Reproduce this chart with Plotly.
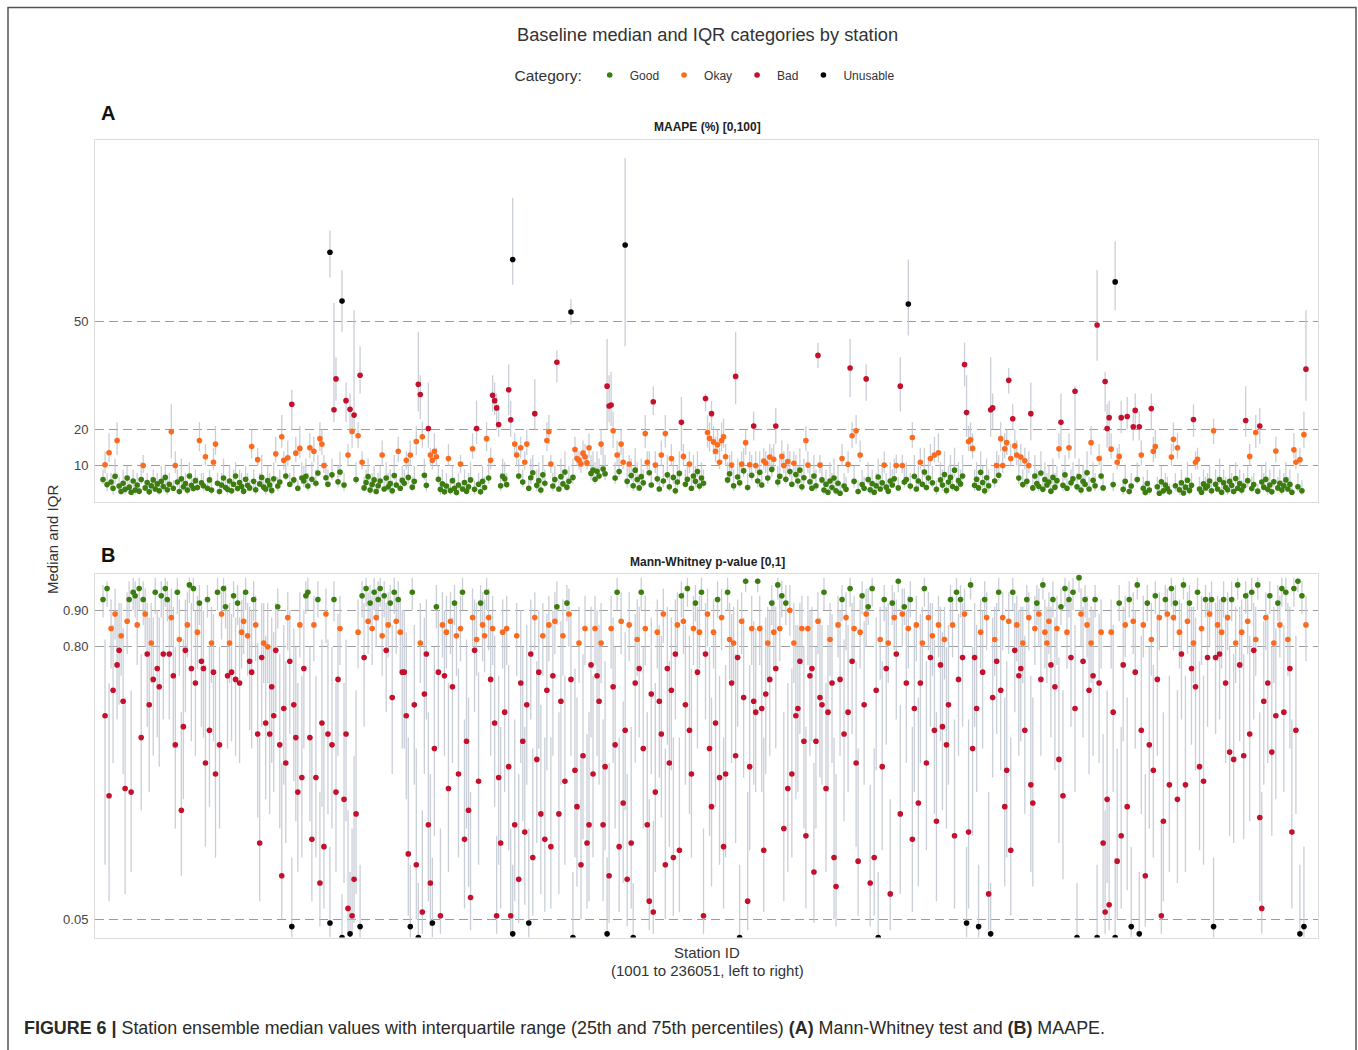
import numpy as np
import plotly.graph_objects as go

# ---------------- data (station order left to right) ----------------
# Panel A: MAAPE median in tenths of a percent, quartiles in percent
A_MED = [
    62,103,48,136,55,38,71,170,44,29, 52,35,66,41,27,58,33,47,30,62, 101,39,54,28,45,61,36,50,31,57, 43,68,34,49,194,38,101,55,29,64, 42,51,33,72,46,37,59,40,170,53,
    45,125,38,61,33,110,160,52,29,47, 66,40,35,58,31,49,72,37,54,43, 30,63,46,39,153,57,34,117,50,68, 41,36,59,47,32,64,133,44,55,180, 115,72,122,49,270,61,135,38,148,66,
    58,71,44,150,63,140,52,80,175,160, 101,67,49,690,75,255,340,56,83,555, 47,280,130,256,195,240,62,183,350,110, 39,54,70,33,48,61,29,45,58,130, 36,66,42,51,31,73,47,140,38,60,
    52,115,68,130,41,57,167,325,297,180, 74,46,203,130,115,140,125,63,35,50, 28,44,120,32,59,38,26,47,105,36, 54,30,42,61,147,35,203,49,28,57, 40,175,66,115,295,280,260,214,45,71,
    64,48,310,227,670,160,130,72,150,55, 110,160,38,67,81,244,46,59,33,75, 52,170,194,105,44,62,386,36,70,50, 83,41,57,525,68,145,120,115,105,135, 125,108,150,79,88,63,85,72,160,91,
    78,320,265,268,197,66,130,84,160,110, 710,57,105,73,45,88,62,39,70,53, 189,110,81,47,277,102,64,36,130,58, 189,75,42,120,68,31,55,79,220,126, 49,63,105,38,72,57,84,44,66,52,
    286,192,176,244,166,140,158,110,170,180, 125,61,78,102,45,347,69,53,105,86, 164,40,103,74,210,101,58,82,47,113, 107,66,124,90,118,210,55,71,126,101, 63,112,84,49,107,76,58,88,42,67,
    170,102,56,38,72,45,405,102,61,33, 49,27,58,40,66,31,52,24,120,44, 35,104,370,183,57,197,29,130,48,38, 340,62,34,51,27,45,69,36,53,102, 41,30,58,47,64,101,39,320,101,55,
    62,547,44,178,71,36,58,110,49,83, 40,66,120,53,130,35,136,61,47,76, 32,55,68,43,88,37,59,50,72,380, 247,167,172,148,46,63,39,82,54,31, 67,45,255,260,58,101,74,175,101,147,
    164,336,120,230,155,130,66,124,48,114, 57,101,244,39,72,51,43,80,35,62, 47,55,30,68,41,59,147,220,46,75, 38,150,53,64,306,42,70,33,57,49, 81,36,164,60,45,489,120,72,39,333,
    203,233,146,48,608,110,126,233,35,57, 236,29,44,208,253,62,208,130,38,26, 51,33,258,140,153,42,24,56,31,47, 37,28,124,173,45,150,34,53,25,41, 60,32,46,228,110,118,36,27,50,39,
    44,58,31,197,49,36,62,27,53,40, 34,57,46,29,65,38,51,33,44,225, 59,126,37,48,192,30,210,55,41,63, 35,47,28,56,141,39,52,33,45,61, 36,49,27,144,110,42,117,31,186,367,
]
A_Q1 = [
    5,8,3,11,4,2,5,13,3,2, 4,2,5,3,2,4,2,3,2,5, 8,3,4,2,3,5,3,4,2,4, 3,5,2,4,12,3,8,4,2,5, 3,4,2,6,3,3,5,3,14,4,
    3,10,3,5,2,9,13,4,2,3, 5,3,2,4,2,4,6,3,4,3, 2,5,3,3,12,4,2,10,4,5, 3,2,5,3,2,5,11,3,4,15, 9,6,10,4,20,5,11,3,12,5,
    4,6,3,12,5,11,4,7,14,13, 8,5,4,62,6,22,28,4,7,47, 3,22,10,20,15,19,5,15,30,9, 3,4,6,2,4,5,2,3,4,10, 3,5,3,4,2,6,4,11,3,5,
    4,9,5,10,3,4,13,25,23,15, 6,3,15,10,9,12,10,5,2,4, 2,3,10,2,5,3,2,3,8,3, 4,2,3,5,12,2,16,4,2,4, 3,14,5,9,25,24,20,18,3,6,
    5,4,24,18,60,13,10,6,12,4, 9,13,3,5,7,20,3,5,2,6, 4,14,16,8,3,5,33,3,6,4, 7,3,5,49,5,12,10,9,8,11, 10,9,12,6,7,5,7,6,13,7,
    6,20,22,21,15,5,10,7,13,9, 43,4,8,6,3,7,5,3,6,4, 15,9,7,4,24,8,5,3,10,4, 15,6,3,10,5,2,4,6,14,10, 4,5,8,3,6,4,7,3,5,4,
    25,15,14,20,13,11,13,9,14,15, 10,5,6,8,3,27,5,4,8,7, 13,3,8,6,17,8,4,7,4,9, 8,5,10,7,9,16,4,6,10,8, 5,9,7,4,8,6,4,7,3,5,
    14,8,4,3,6,3,37,8,5,2, 4,2,4,3,5,2,4,2,10,3, 3,8,29,15,4,16,2,11,4,3, 28,5,2,4,2,3,5,3,4,8, 3,2,4,4,5,8,3,25,8,4,
    5,46,3,15,6,3,4,9,4,7, 3,5,10,4,11,2,11,5,3,6, 2,4,5,3,7,3,4,4,6,32, 18,14,14,12,3,5,3,7,4,2, 5,3,18,20,4,8,6,14,8,12,
    13,30,10,20,12,10,5,10,4,9, 4,8,17,3,6,4,3,7,3,5, 4,4,2,5,3,4,12,14,3,6, 3,12,4,5,12,3,6,2,4,4, 7,3,13,5,3,39,10,6,3,25,
    15,15,12,3,53,9,10,19,2,4, 20,2,3,17,20,5,17,10,3,2, 4,2,20,11,12,3,2,4,2,3, 3,2,10,14,3,12,2,4,2,3, 5,2,3,18,9,9,3,2,4,3,
    3,4,2,16,4,3,5,2,4,3, 2,4,3,2,5,3,4,2,3,18, 4,10,3,4,15,2,16,4,3,5, 2,4,2,4,11,3,4,2,3,5, 3,4,2,12,9,3,10,2,15,28,
]
A_Q3 = [
    9,14,8,19,8,7,12,22,7,5, 9,6,10,7,5,9,6,8,5,11, 13,6,8,5,7,9,6,8,5,10, 7,10,6,8,27,6,14,9,5,12, 7,8,6,11,8,6,9,7,22,8,
    8,16,6,9,6,15,21,8,5,8, 12,7,6,10,6,9,11,6,9,8, 5,10,8,6,20,9,6,15,8,13, 7,6,10,8,6,11,18,7,9,24, 14,12,17,8,31,10,18,6,21,11,
    10,12,8,19,11,18,9,13,22,20, 13,11,9,75,12,55,40,10,14,64, 8,33,16,30,24,53,11,22,43,14, 7,9,12,6,8,10,5,8,10,17, 7,11,8,9,6,13,8,18,7,10,
    9,14,11,17,7,10,21,47,35,22, 12,8,33,15,14,19,15,10,6,9, 5,8,16,6,10,7,5,8,13,6, 9,6,8,11,19,6,28,8,5,10, 7,22,11,15,35,33,30,27,8,12,
    11,8,38,28,84,19,16,12,18,9, 14,20,7,12,13,34,9,11,6,13, 9,22,24,13,8,10,42,6,12,9, 14,7,10,56,12,18,15,14,13,17, 16,13,19,13,14,11,14,12,20,15,
    13,45,35,36,25,11,17,14,20,15, 95,10,13,12,9,15,11,7,12,9, 24,14,14,8,32,14,11,6,17,10, 24,13,8,16,12,6,10,14,29,16, 9,11,14,7,13,10,14,8,11,9,
    30,24,22,28,21,18,20,15,22,23, 16,11,13,14,9,47,12,10,14,15, 20,8,14,13,25,14,10,14,9,15, 14,12,16,15,16,26,10,12,17,14, 11,16,14,9,14,13,10,15,8,12,
    21,14,10,7,13,9,44,13,11,6, 9,5,11,8,12,6,10,5,16,8, 7,14,45,22,10,24,6,17,9,7, 38,11,7,9,5,8,12,7,10,14, 8,6,11,9,12,13,7,40,13,10,
    11,67,8,22,13,7,11,15,9,15, 8,12,16,10,18,6,19,11,9,14, 6,10,13,8,15,7,11,9,13,44, 35,21,22,19,9,11,7,14,10,6, 12,9,40,30,11,14,13,22,14,19,
    20,37,16,27,20,17,12,16,9,15, 10,14,33,7,13,9,8,14,6,11, 8,10,5,12,8,10,19,30,9,13, 7,19,9,11,32,8,12,6,10,9, 14,7,21,11,8,64,16,13,7,36,
    27,28,19,8,72,15,16,28,6,10, 29,5,8,26,30,11,25,17,7,5, 9,6,30,18,20,7,5,10,6,8, 7,5,16,22,8,19,6,9,5,7, 11,6,8,27,14,15,7,5,9,7,
    8,10,6,23,9,7,12,5,9,7, 6,10,8,5,11,7,9,6,8,32, 10,16,7,8,24,5,26,10,8,11, 6,9,5,10,18,7,9,6,8,11, 7,9,5,19,14,8,15,6,25,53,
]
# Panel B: Mann-Whitney p-value median and quartiles, in hundredths
B_MED = [
    93,61,96,39,85,68,89,75,79,83, 65,41,87,93,40,95,94,86,96,55, 93,89,78,64,81,71,95,74,69,94, 78,96,93,78,88,72,53,95,82,35, 58,79,86,97,74,96,70,84,92,76,
    74,48,93,57,81,73,45,95,53,89, 96,91,72,81,73,94,71,92,70,84, 87,95,83,76,73,93,86,56,26,77, 81,59,80,56,69,61,79,91,53,17, 63,48,88,76,3,64,55,40,86,44,
    74,94,95,55,27,86,44,93,15,59, 25,89,56,4,53,93,40,71,85,0, 38,56,8,1,6,16,34,84,3,94, 77,96,87,92,85,95,88,93,96,83, 94,79,86,92,66,95,87,93,84,73,
    73,61,23,3,95,64,20,0,81,7, 67,78,31,15,4,52,91,73,6,86, 72,84,41,87,69,92,83,45,85,95, 27,54,35,11,88,79,82,43,92,86, 83,95,88,71,85,59,6,44,26,84,
    62,85,47,6,1,31,83,16,70,54, 29,64,4,78,22,88,49,73,34,83, 27,68,86,25,72,87,91,34,65,83, 43,92,89,71,0,46,36,81,20,50, 85,26,31,75,45,85,72,65,81,31,
    47,1,17,85,69,53,95,25,87,37, 57,16,86,26,0,70,82,74,95,52, 85,31,10,67,7,40,84,65,56,89, 20,74,48,68,22,78,86,24,94,87, 64,96,57,45,85,92,73,84,95,6,
    78,89,52,36,84,59,93,44,88,25, 45,95,82,70,81,50,77,0,87,66, 98,10,47,85,65,62,98,85,63,24, 67,81,71,92,84,74,97,85,94,30, 92,41,90,45,81,61,63,76,85,54,
    28,85,72,74,18,54,87,66,64,95, 41,62,82,70,22,14,86,71,93,56, 88,62,96,76,85,48,21,84,94,64, 89,91,15,96,22,68,0,82,47,93, 74,81,12,92,88,78,98,34,89,91,
    70,85,93,27,63,86,37,70,81,96, 48,88,77,83,57,32,86,75,58,82, 53,64,93,86,28,95,71,93,77,89, 4,29,97,52,77,63,3,84,73,93, 88,12,1,66,82,76,95,68,88,36,
    46,87,24,95,79,86,72,74,81,57, 93,88,42,37,85,92,89,71,97,84, 81,87,75,93,69,85,49,91,39,96, 84,93,77,95,63,0,99,89,76,93, 86,68,81,72,93,0,70,84,26,7,
    38,9,84,62,0,21,92,28,75,86, 36,93,3,87,73,97,1,57,86,17, 92,53,82,46,94,71,88,6,32,93, 89,42,96,88,92,38,84,78,97,42, 87,92,74,81,69,95,47,85,43,93,
    77,89,93,3,77,86,78,84,93,70, 88,51,93,49,81,97,75,84,50,94, 87,56,95,79,82,97,33,8,65,88, 70,94,51,81,61,92,86,96,62,95, 82,74,29,96,57,98,1,94,3,86,
]
B_Q1 = [
    88,20,91,10,74,48,82,60,64,72, 45,12,78,87,18,90,88,75,90,35, 86,80,58,40,70,50,89,55,47,88, 60,91,87,60,80,52,30,89,72,17, 38,62,77,92,54,90,50,74,86,58,
    55,25,88,36,70,54,22,90,30,82, 91,85,52,70,54,88,50,86,48,74, 78,90,72,57,52,87,76,33,10,58, 70,38,70,34,48,40,62,85,30,5, 42,26,79,56,0,43,32,18,77,22,
    52,89,90,32,10,76,22,88,3,36, 8,81,34,0,30,87,18,50,75,0, 15,32,1,0,1,4,12,74,0,88, 58,91,78,86,75,90,80,87,91,72, 88,62,77,86,45,89,78,87,73,52,
    52,38,6,0,90,42,5,0,70,1, 45,60,10,3,0,28,85,52,1,77, 50,74,18,78,48,86,72,22,76,90, 8,30,14,2,80,62,72,20,86,76, 73,90,79,50,75,36,1,20,8,74,
    40,75,24,1,0,10,72,4,48,32, 9,42,0,60,6,79,26,52,12,72, 7,46,76,8,50,78,86,12,42,72, 20,87,80,50,0,22,14,70,5,27, 75,8,10,55,22,75,50,42,70,10,
    24,0,4,74,48,30,90,7,78,15, 35,3,76,8,0,48,72,55,90,30, 75,10,2,45,1,18,74,44,33,81, 5,53,25,46,6,60,77,7,88,78, 42,91,34,22,75,87,52,74,90,1,
    60,80,28,14,74,36,88,20,79,8, 22,90,71,48,70,26,58,0,78,44, 95,2,24,75,42,40,95,75,40,7, 45,70,50,86,74,52,93,76,88,10, 86,18,83,22,70,38,40,56,75,30,
    8,75,50,54,4,30,78,44,42,90, 18,40,72,48,5,3,77,50,87,32, 79,40,91,56,76,25,6,74,89,42, 80,86,3,91,6,46,0,71,24,87, 53,70,2,86,79,60,95,12,80,86,
    48,74,88,7,40,76,14,48,70,91, 24,79,58,72,34,10,77,54,35,71, 30,42,87,77,8,90,50,88,58,80, 0,8,93,28,58,40,0,74,52,88, 79,2,0,44,72,56,90,46,79,14,
    22,78,6,90,62,76,50,54,70,34, 88,79,18,14,75,86,80,50,93,74, 70,78,55,88,46,75,26,86,16,91, 74,88,58,90,40,0,95,80,55,88, 77,45,70,50,88,0,48,74,8,1,
    15,2,74,40,0,5,87,8,54,77, 13,88,0,78,52,93,0,34,77,3, 87,30,72,22,89,50,79,1,10,88, 80,18,91,79,87,15,74,60,93,18, 78,87,53,70,46,90,24,75,20,88,
    58,80,88,0,56,76,60,74,88,48, 79,28,87,26,70,93,54,74,27,89, 78,32,90,60,72,93,10,1,42,79, 48,89,28,70,38,87,77,91,40,90, 72,52,8,91,34,95,0,89,0,76,
]
B_Q3 = [
    97,82,98,70,93,86,96,90,92,92, 85,66,95,98,68,99,98,94,99,78, 98,96,92,88,92,88,99,90,88,98, 93,99,98,93,96,91,80,99,93,62, 82,93,95,99,92,99,90,94,97,92,
    90,75,97,80,91,89,72,99,80,95, 99,97,90,92,89,98,88,97,88,93, 95,99,92,91,90,98,94,81,55,92, 92,83,92,80,88,84,92,96,78,48, 86,76,95,90,22,85,80,70,95,72,
    90,98,99,80,55,94,72,98,40,82, 58,96,82,25,80,98,70,89,94,12, 70,82,35,18,30,50,68,93,20,98, 92,99,95,97,94,99,96,98,99,93, 98,92,95,97,86,99,95,98,93,90,
    90,84,55,20,99,86,52,15,92,35, 88,93,62,45,22,80,97,90,30,95, 90,94,70,95,88,97,92,74,94,99, 60,82,66,40,96,93,92,73,97,95, 93,99,96,89,94,83,28,72,58,93,
    85,94,75,30,20,60,92,45,90,80, 58,86,30,93,52,95,76,90,64,92, 55,89,94,55,90,95,98,62,87,93, 72,97,96,89,18,74,66,91,50,78, 94,56,62,91,72,94,90,86,92,60,
    76,22,48,94,88,80,99,55,95,65, 84,45,95,58,15,89,93,91,99,80, 94,62,38,88,32,70,93,86,83,96, 52,91,76,88,55,93,95,55,98,95, 86,99,83,74,94,97,91,94,99,30,
    92,96,80,66,93,84,98,72,96,55, 75,99,92,89,91,78,93,20,95,88, 99,40,75,94,87,85,99,94,86,55, 88,91,90,97,93,91,99,94,98,62, 97,70,97,74,92,86,86,92,94,80,
    58,94,90,91,48,80,95,88,86,99, 70,86,92,89,55,45,94,90,97,82, 95,86,99,92,94,76,52,93,98,87, 96,96,42,99,52,88,18,91,76,97, 91,92,38,97,95,93,99,64,96,96,
    90,94,98,58,86,94,66,89,91,99, 76,95,92,92,82,62,94,91,84,91, 80,86,97,94,60,99,89,97,92,96, 25,60,99,80,92,86,20,93,90,98, 95,40,15,88,91,92,99,88,95,66,
    76,95,55,99,92,94,90,91,91,83, 97,95,72,66,94,97,96,89,99,93, 91,95,91,98,88,94,77,96,68,99, 93,98,92,99,86,15,99,96,91,97, 94,88,91,90,97,20,89,93,56,35,
    68,38,93,86,22,52,97,58,91,94, 66,98,25,95,90,99,18,83,94,45, 97,80,92,75,98,89,95,32,62,97, 96,72,99,95,97,68,93,92,99,72, 95,97,91,91,88,99,76,94,72,97,
    92,95,98,22,92,94,93,93,98,89, 95,80,98,78,91,99,91,93,78,98, 95,83,99,92,91,99,62,40,87,95, 89,98,80,91,85,97,94,99,86,99, 92,91,60,99,83,99,20,98,25,94,
]

CATEGORIES = ["Good", "Okay", "Bad", "Unusable"]
CAT_COLORS = ["#3b7d0e", "#fc6a1e", "#c4102c", "#050505"]
A_TICKS = [10, 20, 50]
A_TICK_TEXT = ["10", "20", "50"]
B_TICKS = [0.05, 0.80, 0.90]
B_TICK_TEXT = ["0.05", "0.80", "0.90"]

n = len(A_MED)
for arr in (A_Q1, A_Q3, B_MED, B_Q1, B_Q3):
    assert len(arr) == n, len(arr)

a_med = np.array(A_MED, float) / 10.0
a_q1 = np.array(A_Q1, float)
a_q3 = np.array(A_Q3, float)
b_med = np.array(B_MED, float) / 100.0
b_q1 = np.array(B_Q1, float) / 100.0
b_q3 = np.array(B_Q3, float) / 100.0
x = np.arange(n)

cat_a = np.where(a_med < 10, 0, np.where(a_med < 20, 1, np.where(a_med <= 50, 2, 3)))
cat_b = np.where(b_med > 0.9, 0, np.where(b_med >= 0.8, 1, np.where(b_med >= 0.05, 2, 3)))

FONT = "Liberation Sans, Arial, sans-serif"
W, H = 1358, 1050


def px_x(p):
    return p / W


def px_y(p):
    return 1 - p / H


def whisker_xy(lo, hi):
    xs = np.repeat(x.astype(float), 3)
    xs[2::3] = np.nan
    ys = np.empty(3 * n)
    ys[0::3] = lo
    ys[1::3] = hi
    ys[2::3] = np.nan
    return xs, ys


fig = go.Figure()

for (lo, hi, xa, ya) in [(a_q1, a_q3, "x", "y"), (b_q1, b_q3, "x2", "y2")]:
    wx, wy = whisker_xy(lo, hi)
    fig.add_trace(go.Scatter(x=wx, y=wy, mode="lines", xaxis=xa, yaxis=ya,
                             line=dict(color="rgba(192,197,208,0.85)", width=1.3),
                             hoverinfo="skip", showlegend=False))

for k, name in enumerate(CATEGORIES):
    m = cat_a == k
    fig.add_trace(go.Scatter(x=x[m], y=a_med[m], mode="markers", name=name,
                             legendgroup=name, xaxis="x", yaxis="y",
                             marker=dict(color=CAT_COLORS[k], size=5.6, line=dict(width=0))))
for k, name in enumerate(CATEGORIES):
    m = cat_b == k
    fig.add_trace(go.Scatter(x=x[m], y=b_med[m], mode="markers", name=name,
                             legendgroup=name, showlegend=False, xaxis="x2", yaxis="y2",
                             marker=dict(color=CAT_COLORS[k], size=5.6, line=dict(width=0))))

x_dom = [px_x(95), px_x(1318)]
x_common = dict(domain=x_dom, range=[-4, n + 5], showticklabels=False, ticks="",
                showgrid=False, zeroline=False, showline=True, mirror=True,
                linecolor="#dcdcdc", linewidth=1)
y_common = dict(showgrid=True, gridcolor="#9c9c9c", gridwidth=1, griddash="9px,5px",
                zeroline=False, showline=True, mirror=True, linecolor="#dcdcdc", linewidth=1,
                ticks="", tickfont=dict(size=13, color="#444444", family=FONT), ticklabelstandoff=3)

fig.update_layout(
    width=W, height=H,
    margin=dict(l=0, r=0, t=0, b=0),
    paper_bgcolor="white", plot_bgcolor="white",
    font=dict(family=FONT, color="#333333"),
    xaxis=dict(anchor="y", **x_common),
    xaxis2=dict(anchor="y2", **x_common),
    yaxis=dict(domain=[px_y(502), px_y(140)], range=[0, 100], anchor="x",
               tickvals=A_TICKS, ticktext=A_TICK_TEXT, **y_common),
    yaxis2=dict(domain=[px_y(937.5), px_y(574)], range=[0, 1], anchor="x2",
                tickvals=B_TICKS, ticktext=B_TICK_TEXT, **y_common),
    legend=dict(orientation="h", x=px_x(706), xanchor="center", y=px_y(76), yanchor="middle",
                title=dict(text="Category:", font=dict(size=15.5, color="#333333", family=FONT), side="left"),
                font=dict(size=12, color="#333333", family=FONT), itemwidth=30,
                bgcolor="rgba(0,0,0,0)", traceorder="normal"),
    showlegend=True,
    hovermode=False,
)

ann = [
    dict(text="Baseline median and IQR categories by station", x=px_x(707), y=px_y(35),
         font=dict(size=18.3, color="#333333")),
    dict(text="<b>A</b>", x=px_x(99), y=px_y(113), xanchor="left", font=dict(size=20, color="#111111")),
    dict(text="<b>MAAPE (%) [0,100]</b>", x=px_x(707), y=px_y(127), font=dict(size=12, color="#222222")),
    dict(text="<b>B</b>", x=px_x(99), y=px_y(555), xanchor="left", font=dict(size=20, color="#111111")),
    dict(text="<b>Mann-Whitney p-value [0,1]</b>", x=px_x(707), y=px_y(562), font=dict(size=12, color="#222222")),
    dict(text="Median and IQR", x=px_x(52), y=px_y(540), textangle=-90, font=dict(size=15, color="#333333")),
    dict(text="Station ID", x=px_x(707), y=px_y(952), font=dict(size=15, color="#333333")),
    dict(text="(1001 to 236051, left to right)", x=px_x(707), y=px_y(970), font=dict(size=15, color="#333333")),
    dict(text="<b>FIGURE 6 |</b> Station ensemble median values with interquartile range (25th and 75th percentiles) "
              "<b>(A)</b> Mann-Whitney test and <b>(B)</b> MAAPE.",
         x=px_x(22), y=px_y(1028), xanchor="left", font=dict(size=17.9, color="#2a2a2a")),
]
for a in ann:
    a.setdefault("xanchor", "center")
    a.update(xref="paper", yref="paper", yanchor="middle", showarrow=False)
    a["font"]["family"] = FONT
fig.update_layout(annotations=ann)

fig.add_shape(type="rect", xref="paper", yref="paper",
              x0=px_x(8), x1=px_x(1356), y0=-0.05, y1=px_y(7.5),
              line=dict(color="#555555", width=1.5), fillcolor="rgba(0,0,0,0)", layer="above")

fig.write_html("out.html")
